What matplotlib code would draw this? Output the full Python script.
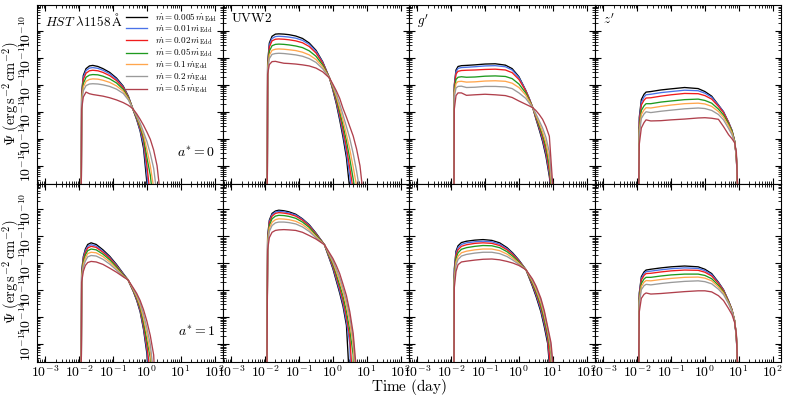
import matplotlib
matplotlib.use('Agg')
import numpy as np
import matplotlib.pyplot as plt
from matplotlib.ticker import LogLocator, FuncFormatter, NullFormatter

plt.rcParams['mathtext.fontset'] = 'cm'
plt.rcParams['font.family'] = ['DejaVu Serif']

# ---------------- data (log10 of time in days, log10 of Psi) ----------------
rates = ['0.005', '0.01', '0.02', '0.05', '0.1', '0.2', '0.5']
colors = ['#000000', '#4a72e8', '#f01c1c', '#1f9a1f', '#ffa64d', '#9a9a9a', '#b0404c']
bands = [r'$HST\ \lambda1158\,\mathrm{\AA}$', r'$\mathrm{UVW2}$', r"$g'$", r"$z'$"]
spins = [r'$a^{*}=0$', r'$a^{*}=1$']
x_tick_exp = [-3, -2, -1, 0, 1, 2]
y_tick_exp = [-15, -14, -13, -12, -11, -10]
N = None

# HST a*=0
hst0_start = -1.94
hst0_t = [-1.93, -1.88, -1.8, -1.7, -1.6, -1.45, -1.3, -1.1, -0.9, -0.7, -0.55, -0.42, -0.3, -0.2, -0.1, 0.0, 0.1, 0.2, 0.3]
hst0_psi = [
    [-12.3, -11.65, -11.4, -11.3, -11.28, -11.32, -11.40, -11.54, -11.75, -12.05, -12.42, -12.88, -13.3, -13.72, -14.35, N, N, N, N],
    [-12.35, -11.72, -11.47, -11.38, -11.36, -11.39, -11.46, -11.59, -11.79, -12.08, -12.43, -12.88, -13.28, -13.68, -14.2, -15.3, N, N, N],
    [-12.4, -11.8, -11.57, -11.48, -11.46, -11.48, -11.54, -11.66, -11.84, -12.11, -12.45, -12.88, -13.25, -13.62, -14.05, -15.0, N, N, N],
    [-12.5, -11.95, -11.72, -11.64, -11.62, -11.63, -11.68, -11.78, -11.93, -12.17, -12.48, -12.88, -13.22, -13.55, -13.95, -14.7, -15.35, N, N],
    [-12.55, -12.08, -11.87, -11.80, -11.78, -11.79, -11.83, -11.91, -12.04, -12.24, -12.52, -12.88, -13.18, -13.48, -13.85, -14.4, -15.0, N, N],
    [-12.65, -12.22, -12.03, -11.97, -11.96, -11.97, -12.0, -12.06, -12.16, -12.32, -12.56, -12.88, -13.15, -13.42, -13.75, -14.1, -14.55, -15.1, N],
    [-12.9, -12.45, -12.27, -12.33, -12.36, -12.39, -12.42, -12.48, -12.56, -12.66, -12.76, -12.88, -13.08, -13.28, -13.5, -13.75, -14.02, -14.42, -15.0],
]
hst0_end = [0.02, 0.04, 0.08, 0.15, 0.21, 0.28, 0.38]

# UVW2 a*=0
uvw0_start = -1.94
uvw0_t = [-1.93, -1.88, -1.8, -1.7, -1.6, -1.45, -1.3, -1.1, -0.9, -0.7, -0.5, -0.3, -0.1, 0.0, 0.1, 0.2, 0.3, 0.4, 0.5, 0.6, 0.7, 0.8]
uvw0_psi = [
    [-11.2, -10.45, -10.2, -10.12, -10.11, -10.12, -10.14, -10.19, -10.28, -10.45, -10.72, -11.15, -11.75, -12.2, -12.7, -13.3, -13.95, -14.7, N, N, N, N],
    [-11.25, -10.52, -10.28, -10.21, -10.2, -10.21, -10.23, -10.27, -10.35, -10.5, -10.76, -11.17, -11.75, -12.17, -12.64, -13.2, -13.82, -14.52, -15.4, N, N, N],
    [-11.3, -10.6, -10.37, -10.31, -10.3, -10.31, -10.33, -10.37, -10.44, -10.58, -10.82, -11.2, -11.75, -12.14, -12.58, -13.1, -13.68, -14.32, -15.1, N, N, N],
    [-11.35, -10.75, -10.55, -10.5, -10.49, -10.5, -10.52, -10.56, -10.62, -10.74, -10.94, -11.27, -11.75, -12.1, -12.5, -12.98, -13.5, -14.08, -14.75, -15.5, N, N],
    [-11.4, -10.9, -10.72, -10.68, -10.67, -10.68, -10.7, -10.73, -10.79, -10.89, -11.06, -11.34, -11.75, -12.06, -12.42, -12.85, -13.32, -13.84, -14.4, -15.05, N, N],
    [-11.45, -11.03, -10.87, -10.84, -10.83, -10.84, -10.86, -10.89, -10.94, -11.03, -11.17, -11.41, -11.75, -12.02, -12.33, -12.7, -13.12, -13.55, -14.0, -14.55, -15.2, N],
    [-11.6, -11.25, -11.14, -11.13, -11.16, -11.2, -11.21, -11.23, -11.26, -11.3, -11.38, -11.52, -11.75, -11.98, -12.22, -12.5, -12.88, -13.2, -13.55, -13.9, -14.38, -15.0],
]
uvw0_end = [0.5, 0.55, 0.6, 0.65, 0.72, 0.79, 0.88]

# g' a*=0
g0_start = -1.92
g0_t = [-1.91, -1.86, -1.8, -1.7, -1.55, -1.3, -1.0, -0.7, -0.4, -0.2, 0.0, 0.2, 0.3, 0.41, 0.5, 0.6, 0.7, 0.8, 0.9]
g0_psi = [
    [-12.0, -11.45, -11.32, -11.29, -11.28, -11.26, -11.23, -11.22, -11.27, -11.4, -11.7, -12.2, -12.5, -12.85, -13.25, -13.66, -14.1, -14.65, -15.4],
    [-12.05, -11.52, -11.39, -11.36, -11.35, -11.33, -11.3, -11.29, -11.33, -11.45, -11.73, -12.2, -12.48, -12.85, -13.22, -13.6, -14.03, -14.55, -15.3],
    [-12.1, -11.6, -11.5, -11.47, -11.46, -11.45, -11.43, -11.42, -11.45, -11.55, -11.8, -12.22, -12.5, -12.85, -13.2, -13.56, -13.95, -14.45, -15.2],
    [-12.2, -11.8, -11.72, -11.7, -11.72, -11.71, -11.68, -11.67, -11.69, -11.77, -11.97, -12.3, -12.55, -12.85, -13.15, -13.5, -13.85, -14.3, -15.0],
    [-12.3, -11.95, -11.88, -11.87, -11.9, -11.89, -11.86, -11.85, -11.87, -11.94, -12.1, -12.38, -12.6, -12.85, -13.12, -13.42, -13.75, -14.15, -14.8],
    [-12.45, -12.12, -12.06, -12.05, -12.1, -12.09, -12.06, -12.06, -12.08, -12.14, -12.3, -12.5, -12.67, -12.85, -13.07, -13.33, -13.6, -13.95, -14.5],
    [-12.9, -12.4, -12.3, -12.3, -12.39, -12.37, -12.35, -12.37, -12.4, -12.47, -12.6, -12.72, -12.78, -12.85, -12.95, -13.1, -13.28, -13.55, -13.91],
]
g0_end = [0.95, 0.96, 0.96, 0.97, 0.98, 0.99, 1.01]

# z' a*=0
z0_start = -1.96
z0_t = [-1.94, -1.88, -1.8, -1.74, -1.6, -1.3, -1.0, -0.6, -0.2, 0.0, 0.2, 0.4, 0.55, 0.7, 0.8, 0.88, 0.93]
z0_psi = [
    [-13.2, -12.55, -12.35, -12.27, -12.25, -12.19, -12.15, -12.1, -12.14, -12.25, -12.42, -12.75, -13.0, -13.4, -13.7, -14.1, -14.7],
    [-13.3, -12.65, -12.45, -12.37, -12.35, -12.29, -12.25, -12.2, -12.22, -12.31, -12.46, -12.76, -13.0, -13.38, -13.68, -14.08, -14.7],
    [-13.4, -12.75, -12.57, -12.49, -12.48, -12.42, -12.37, -12.32, -12.33, -12.4, -12.53, -12.8, -13.03, -13.4, -13.7, -14.1, -14.7],
    [-13.6, -12.95, -12.78, -12.7, -12.7, -12.64, -12.6, -12.55, -12.53, -12.58, -12.68, -12.9, -13.12, -13.45, -13.72, -14.1, -14.65],
    [-13.7, -13.1, -12.93, -12.85, -12.86, -12.8, -12.75, -12.7, -12.68, -12.71, -12.8, -12.99, -13.2, -13.52, -13.78, -14.12, -14.65],
    [-13.85, -13.25, -13.08, -13.0, -13.03, -12.98, -12.94, -12.89, -12.86, -12.88, -12.95, -13.1, -13.3, -13.62, -13.85, -14.15, -14.6],
    [-14.2, -13.6, -13.4, -13.3, -13.34, -13.33, -13.3, -13.27, -13.23, -13.22, -13.24, -13.28, -13.55, -13.85, -14.0, -14.15, -14.5],
]
z0_end = [0.97, 0.97, 0.97, 0.97, 0.97, 0.97, 0.97]

# HST a*=1
hst1_start = -1.94
hst1_t = [-1.93, -1.88, -1.82, -1.75, -1.65, -1.5, -1.3, -1.1, -0.9, -0.7, -0.56, -0.4, -0.3, -0.2, -0.1, 0.0, 0.1, 0.2]
hst1_psi = [
    [-12.3, -11.75, -11.47, -11.3, -11.24, -11.3, -11.5, -11.74, -12.04, -12.38, -12.61, -13.05, -13.38, -13.8, -14.45, -15.35, N, N],
    [-12.35, -11.8, -11.53, -11.37, -11.31, -11.36, -11.55, -11.78, -12.07, -12.4, -12.61, -13.03, -13.35, -13.75, -14.38, -15.2, N, N],
    [-12.4, -11.86, -11.6, -11.43, -11.37, -11.41, -11.59, -11.81, -12.1, -12.42, -12.61, -13.02, -13.32, -13.7, -14.3, -15.05, N, N],
    [-12.45, -11.95, -11.69, -11.53, -11.47, -11.5, -11.66, -11.87, -12.14, -12.44, -12.61, -13.0, -13.28, -13.63, -14.18, -14.85, -15.5, N],
    [-12.5, -12.05, -11.8, -11.64, -11.59, -11.61, -11.75, -11.95, -12.2, -12.47, -12.61, -12.98, -13.24, -13.56, -14.03, -14.62, -15.3, N],
    [-12.55, -12.15, -11.92, -11.76, -11.71, -11.73, -11.85, -12.03, -12.25, -12.49, -12.61, -12.95, -13.18, -13.47, -13.88, -14.4, -15.0, N],
    [-12.7, -12.3, -12.08, -11.97, -11.93, -11.95, -12.04, -12.18, -12.33, -12.5, -12.61, -12.92, -13.12, -13.38, -13.72, -14.15, -14.68, -15.4],
]
hst1_end = [0.03, 0.05, 0.08, 0.12, 0.15, 0.18, 0.22]

# UVW2 a*=1
uvw1_start = -1.95
uvw1_t = [-1.93, -1.88, -1.8, -1.7, -1.6, -1.45, -1.3, -1.1, -0.9, -0.7, -0.5, -0.25, 0.0, 0.1, 0.2, 0.3, 0.4, 0.5, 0.6]
uvw1_psi = [
    [-11.0, -10.4, -10.15, -10.06, -10.03, -10.05, -10.09, -10.18, -10.35, -10.57, -10.88, -11.31, -12.2, -12.65, -13.1, -13.6, -14.3, N, N],
    [-11.05, -10.45, -10.2, -10.1, -10.07, -10.09, -10.13, -10.21, -10.37, -10.59, -10.9, -11.31, -12.15, -12.58, -13.02, -13.5, -14.15, -15.0, N],
    [-11.1, -10.5, -10.25, -10.15, -10.12, -10.14, -10.17, -10.25, -10.4, -10.62, -10.92, -11.31, -12.1, -12.5, -12.92, -13.38, -13.98, -14.75, N],
    [-11.15, -10.6, -10.35, -10.25, -10.22, -10.23, -10.26, -10.33, -10.47, -10.67, -10.96, -11.31, -12.03, -12.4, -12.8, -13.22, -13.78, -14.48, -15.4],
    [-11.2, -10.7, -10.48, -10.38, -10.35, -10.36, -10.38, -10.44, -10.56, -10.75, -11.01, -11.31, -11.96, -12.3, -12.66, -13.06, -13.56, -14.2, -15.05],
    [-11.3, -10.82, -10.6, -10.5, -10.47, -10.47, -10.49, -10.54, -10.65, -10.82, -11.05, -11.31, -11.9, -12.2, -12.53, -12.92, -13.38, -13.98, -14.8],
    [-11.5, -11.05, -10.85, -10.78, -10.76, -10.75, -10.76, -10.78, -10.85, -10.97, -11.1, -11.31, -11.82, -12.08, -12.38, -12.78, -13.2, -13.8, -14.6],
]
uvw1_end = [0.47, 0.52, 0.56, 0.6, 0.64, 0.67, 0.69]

# g' a*=1
g1_start = -1.92
g1_t = [-1.91, -1.86, -1.8, -1.7, -1.55, -1.3, -1.06, -0.8, -0.57, -0.35, -0.18, 0.0, 0.21, 0.4, 0.51, 0.65, 0.75, 0.85, 0.95]
g1_psi = [
    [-12.2, -11.55, -11.35, -11.23, -11.18, -11.14, -11.12, -11.15, -11.24, -11.42, -11.62, -11.88, -12.24, -12.85, -13.24, -13.8, -14.35, -14.97, N],
    [-12.3, -11.62, -11.42, -11.3, -11.24, -11.2, -11.18, -11.2, -11.29, -11.46, -11.65, -11.9, -12.24, -12.8, -13.18, -13.72, -14.25, -14.85, N],
    [-12.4, -11.7, -11.5, -11.37, -11.31, -11.26, -11.24, -11.26, -11.34, -11.5, -11.68, -11.92, -12.24, -12.77, -13.12, -13.64, -14.15, -14.75, N],
    [-12.5, -11.82, -11.61, -11.48, -11.42, -11.37, -11.34, -11.35, -11.42, -11.57, -11.74, -11.96, -12.24, -12.72, -13.05, -13.55, -14.05, -14.62, -15.4],
    [-12.6, -11.95, -11.74, -11.61, -11.55, -11.5, -11.47, -11.47, -11.53, -11.66, -11.81, -12.0, -12.24, -12.67, -12.98, -13.46, -13.93, -14.5, -15.25],
    [-12.7, -12.08, -11.86, -11.73, -11.67, -11.62, -11.59, -11.59, -11.64, -11.75, -11.88, -12.04, -12.24, -12.62, -12.9, -13.37, -13.82, -14.42, -15.1],
    [-12.9, -12.3, -12.05, -11.95, -11.92, -11.88, -11.85, -11.84, -11.87, -11.93, -11.99, -12.08, -12.24, -12.58, -12.85, -13.3, -13.75, -14.35, -14.95],
]
g1_end = [0.91, 0.93, 0.94, 0.96, 0.97, 0.99, 1.02]

# z' a*=1
z1_start = -1.96
z1_t = [-1.94, -1.88, -1.8, -1.74, -1.6, -1.3, -1.0, -0.6, -0.2, 0.0, 0.2, 0.4, 0.55, 0.7, 0.8, 0.88, 0.93]
z1_psi = [
    [-13.1, -12.5, -12.32, -12.25, -12.22, -12.17, -12.13, -12.1, -12.13, -12.22, -12.38, -12.7, -12.98, -13.4, -13.72, -14.15, -14.75],
    [-13.15, -12.56, -12.38, -12.31, -12.29, -12.24, -12.2, -12.17, -12.19, -12.27, -12.42, -12.72, -12.99, -13.4, -13.72, -14.14, -14.74],
    [-13.2, -12.62, -12.45, -12.38, -12.37, -12.32, -12.28, -12.25, -12.26, -12.33, -12.47, -12.75, -13.01, -13.41, -13.72, -14.13, -14.72],
    [-13.3, -12.75, -12.58, -12.52, -12.52, -12.47, -12.43, -12.4, -12.4, -12.45, -12.57, -12.82, -13.06, -13.44, -13.74, -14.13, -14.7],
    [-13.4, -12.86, -12.7, -12.64, -12.65, -12.6, -12.56, -12.52, -12.51, -12.55, -12.65, -12.88, -13.1, -13.47, -13.76, -14.14, -14.68],
    [-13.5, -12.98, -12.83, -12.78, -12.8, -12.75, -12.71, -12.67, -12.65, -12.68, -12.76, -12.96, -13.16, -13.5, -13.78, -14.15, -14.66],
    [-13.8, -13.3, -13.15, -13.1, -13.14, -13.12, -13.09, -13.05, -13.02, -13.02, -13.06, -13.2, -13.38, -13.68, -13.9, -14.2, -14.62],
]
z1_end = [0.97, 0.97, 0.97, 0.97, 0.97, 0.97, 0.97]

panels = [
    [(hst0_start, hst0_t, hst0_psi, hst0_end), (uvw0_start, uvw0_t, uvw0_psi, uvw0_end),
     (g0_start, g0_t, g0_psi, g0_end), (z0_start, z0_t, z0_psi, z0_end)],
    [(hst1_start, hst1_t, hst1_psi, hst1_end), (uvw1_start, uvw1_t, uvw1_psi, uvw1_end),
     (g1_start, g1_t, g1_psi, g1_end), (z1_start, z1_t, z1_psi, z1_end)],
]

FLOOR = -15.9
XLIM = (10 ** -3.25, 10 ** 2.25)
YLIM = (10 ** -15.66, 10 ** -9.04)

fig = plt.figure(figsize=(7.89, 3.96), dpi=100)
gs = fig.add_gridspec(2, 4, left=37 / 789, right=781 / 789, bottom=1 - 362 / 396, top=1 - 5 / 396,
                      hspace=0, wspace=0)

fmt = FuncFormatter(lambda v, p: r'$10^{%d}$' % int(round(np.log10(v))))

for r in range(2):
    for c in range(4):
        ax = fig.add_subplot(gs[r, c])
        start, grid, psi, end = panels[r][c]
        for k in range(7):
            lt = [start] + [g for g, v in zip(grid, psi[k]) if v is not None] + [end[k]]
            lp = [FLOOR] + [v for v in psi[k] if v is not None] + [FLOOR]
            ax.plot(10.0 ** np.array(lt), 10.0 ** np.array(lp), color=colors[k], lw=0.95,
                    label=r'$\dot{m} = %s\,\dot{m}_{\rm Edd}$' % rates[k])
        ax.set_xscale('log')
        ax.set_yscale('log')
        ax.xaxis.set_minor_locator(LogLocator(base=10, subs=np.arange(2, 10), numticks=20))
        ax.yaxis.set_minor_locator(LogLocator(base=10, subs=np.arange(2, 10), numticks=20))
        ax.set_xticks([10.0 ** e for e in x_tick_exp])
        ax.set_yticks([10.0 ** e for e in y_tick_exp])
        ax.set_xlim(*XLIM)
        ax.set_ylim(*YLIM)
        ax.tick_params(which='both', direction='in', top=True, right=True, labelsize=10)
        ax.tick_params(which='major', length=4.5, width=0.8, pad=2)
        ax.tick_params(which='minor', length=2.2, width=0.6)
        ax.xaxis.set_major_formatter(fmt)
        ax.yaxis.set_major_formatter(fmt)
        ax.yaxis.set_minor_formatter(NullFormatter())
        ax.xaxis.set_minor_formatter(NullFormatter())
        if r == 0:
            ax.tick_params(labelbottom=False)
        if c > 0:
            ax.tick_params(labelleft=False)
        else:
            for lbl in ax.get_yticklabels():
                lbl.set_rotation(90)
                lbl.set_va('center')
        if r == 0:
            ax.text(0.045, 0.96, bands[c], transform=ax.transAxes, ha='left', va='top', fontsize=9.5)
        if c == 0:
            ax.text(0.957, 0.17, spins[r], transform=ax.transAxes, ha='right', va='center', fontsize=10)
        if r == 0 and c == 0:
            ax.legend(loc='upper right', frameon=False, fontsize=6.6, handlelength=2.3,
                      labelspacing=0.0, borderaxespad=0.25, handletextpad=0.8)
        for sp in ax.spines.values():
            sp.set_linewidth(0.8)

for r in range(2):
    yc = 1 - (5 + 178 * r + 89) / 396
    fig.text(12 / 789, yc, r'$\Psi\ (\mathrm{erg\,s^{-2}\,cm^{-2}})$', rotation=90,
             ha='center', va='center', fontsize=10.5)

fig.text(409 / 789, 1 - 387 / 396, r'$\mathrm{Time\ (day)}$', ha='center', va='center', fontsize=11)
fig.savefig('out.png', dpi=100)
